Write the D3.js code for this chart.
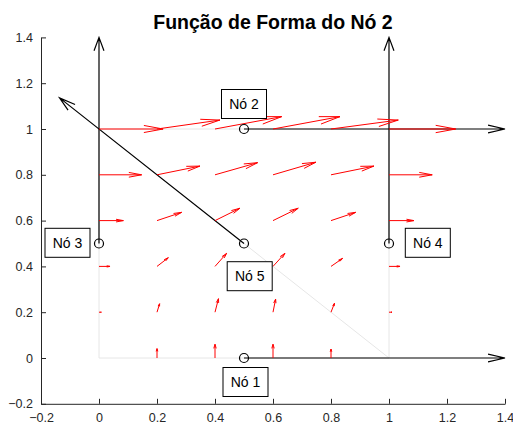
<!DOCTYPE html>
<html>
<head>
<meta charset="utf-8">
<script src="https://cdn.jsdelivr.net/npm/d3@7"></script>
<style>
  body { margin: 0; background: #fff; }
  svg { font-family: "Liberation Sans", Arial, sans-serif; }
</style>
</head>
<body>
<div class="svg"></div>
<script>
// grid of the red quiver field
var xGrid = [0, 0.2, 0.4, 0.6, 0.8, 1];
var yGrid = [0, 0.2, 0.4, 0.6, 0.8, 1];

// x component of each red arrow, one row per yGrid value
var uRows = [
    [0.000, 0.000, 0.000, 0.000, 0.000, 0.000],
    [0.008, 0.009, 0.012, 0.009, 0.012, 0.010],
    [0.038, 0.039, 0.040, 0.041, 0.040, 0.038],
    [0.084, 0.085, 0.086, 0.087, 0.085, 0.086],
    [0.147, 0.148, 0.147, 0.148, 0.148, 0.149],
    [0.221, 0.217, 0.230, 0.231, 0.232, 0.230]
];
// y component of each red arrow, one row per yGrid value
var vRows = [
    [0.000, 0.041, 0.060, 0.060, 0.039, 0.000],
    [0.000, 0.037, 0.059, 0.057, 0.039, 0.000],
    [0.000, 0.038, 0.057, 0.057, 0.035, 0.000],
    [0.000, 0.036, 0.054, 0.054, 0.036, 0.000],
    [0.000, 0.038, 0.053, 0.055, 0.038, 0.000],
    [0.000, 0.039, 0.054, 0.054, 0.039, 0.000]
];

// nodes of the element
var nodeNames = ["Nó 1", "Nó 2", "Nó 3", "Nó 4", "Nó 5"];
var nodeX = [0.5, 0.5, 0, 1, 0.5];
var nodeY = [0, 1, 0.5, 0.5, 0.5];

// black local axis arrows, one per node
var axisDX = [0.9, 0.9, 0, 0, -0.636];
var axisDY = [0, 0, 0.9, 0.9, 0.636];

// faint element edges
var edgeX = [[0, 1], [1, 1], [1, 0], [0, 0], [1, 0]];
var edgeY = [[0, 0], [0, 1], [1, 1], [1, 0], [0, 1]];

var ticks = [-0.2, 0, 0.2, 0.4, 0.6, 0.8, 1, 1.2, 1.4];
var title = "Função de Forma do Nó 2";

var width = 513, height = 428;

var x = d3.scaleLinear().domain([-0.2, 1.4]).range([41, 505]);
var y = d3.scaleLinear().domain([-0.2, 1.4]).range([403.8, 37.4]);

var svg = d3.select("div.svg")
    .append("svg")
    .attr("width", width)
    .attr("height", height);

// draws an arrow in data space, head sized relative to the arrow length
var arrowPath = function (x0, y0, dx, dy, headLen, headWid) {
    var x1 = x0 + dx, y1 = y0 + dy;
    var bx = x1 - dx * headLen, by = y1 - dy * headLen;
    // perpendicular, in data units
    var px = -dy * headWid, py = dx * headWid;
    return "M" + x(x0) + "," + y(y0) + "L" + x(x1) + "," + y(y1) +
        "M" + x(bx + px) + "," + y(by + py) + "L" + x(x1) + "," + y(y1) +
        "L" + x(bx - px) + "," + y(by - py);
};

// axes
var xAxis = d3.axisBottom(x).tickValues(ticks).tickSizeInner(-5).tickSizeOuter(0)
    .tickPadding(9).tickFormat(d3.format("~g"));
var yAxis = d3.axisLeft(y).tickValues(ticks).tickSizeInner(-5).tickSizeOuter(0)
    .tickPadding(8).tickFormat(d3.format("~g"));

var gx = svg.append("g").attr("transform", "translate(0," + y(-0.2) + ")").call(xAxis);
var gy = svg.append("g").attr("transform", "translate(" + x(-0.2) + ",0)").call(yAxis);
[gx, gy].forEach(function (g) {
    g.selectAll("path, line").attr("stroke", "#262626");
    g.selectAll("text").attr("fill", "#262626").style("font-size", "12.5px")
        .style("font-family", "Liberation Sans, Arial, sans-serif");
});

// element edges
svg.selectAll("line.edge")
    .data(edgeX)
    .enter().append("line")
    .attr("class", "edge")
    .attr("x1", function (d) { return x(d[0]); })
    .attr("x2", function (d) { return x(d[1]); })
    .attr("y1", function (d, i) { return y(edgeY[i][0]); })
    .attr("y2", function (d, i) { return y(edgeY[i][1]); })
    .attr("stroke", "#e6e6e6")
    .attr("stroke-width", 1);

// black local axes
svg.selectAll("path.axisArrow")
    .data(nodeX)
    .enter().append("path")
    .attr("class", "axisArrow")
    .attr("d", function (d, i) {
        return arrowPath(d, nodeY[i], axisDX[i], axisDY[i], 0.065, 0.019);
    })
    .attr("fill", "none")
    .attr("stroke", "#000")
    .attr("stroke-width", 1.2);

// red quiver field
var quiver = [];
yGrid.forEach(function (gy0, j) {
    xGrid.forEach(function (gx0, i) {
        quiver.push({x: gx0, y: gy0, u: uRows[j][i], v: vRows[j][i]});
    });
});
svg.selectAll("path.quiver")
    .data(quiver.filter(function (d) { return d.u !== 0 || d.v !== 0; }))
    .enter().append("path")
    .attr("class", "quiver")
    .attr("d", function (d) { return arrowPath(d.x, d.y, d.u, d.v, 0.3, 0.07); })
    .attr("fill", "none")
    .attr("stroke", "#ff0000")
    .attr("stroke-width", 1);

// node circles
svg.selectAll("circle.node")
    .data(nodeX)
    .enter().append("circle")
    .attr("class", "node")
    .attr("cx", function (d) { return x(d); })
    .attr("cy", function (d, i) { return y(nodeY[i]); })
    .attr("r", 4.5)
    .attr("fill", "none")
    .attr("stroke", "#000")
    .attr("stroke-width", 1.2);

// node labels (box centre offsets from node, in pixels)
var labelOffsets = [[1.5, 24], [0, -25], [-31.5, -0.7], [38.8, -0.7], [5.7, 32.7]];
var labels = svg.selectAll("g.label")
    .data(nodeNames)
    .enter().append("g")
    .attr("class", "label")
    .attr("transform", function (d, i) {
        return "translate(" + (x(nodeX[i]) + labelOffsets[i][0]) + "," +
            (y(nodeY[i]) + labelOffsets[i][1]) + ")";
    });
labels.append("rect")
    .attr("x", -22.5).attr("y", -14.5)
    .attr("width", 45).attr("height", 29)
    .attr("fill", "#fff")
    .attr("stroke", "#000")
    .attr("stroke-width", 1);
labels.append("text")
    .attr("text-anchor", "middle")
    .attr("dy", "0.35em")
    .style("font-size", "14px")
    .text(function (d) { return d; });

// title
svg.append("text")
    .attr("x", x(0.6))
    .attr("y", 29)
    .attr("text-anchor", "middle")
    .style("font-size", "19.5px")
    .style("font-weight", "bold")
    .text(title);
</script>
</body>
</html>
